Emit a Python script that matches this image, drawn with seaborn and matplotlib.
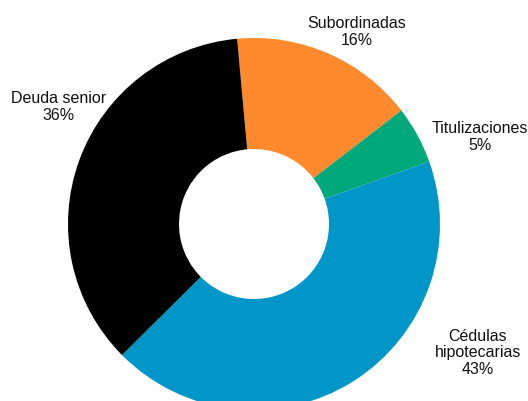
import matplotlib
matplotlib.use("Agg")
import matplotlib.pyplot as plt
import seaborn as sns

sns.set_theme(style="white")
plt.rcParams['font.family'] = ['Liberation Sans', 'DejaVu Sans']

categorias = ['Subordinadas', 'Titulizaciones', 'Cédulas\nhipotecarias', 'Deuda senior']
valores = [16, 5, 43, 36]
colores = ['#FF8A2D', '#00A87A', '#0096C8', '#000000']

# label positions in pixel coords (x, y from top)
pos_etiquetas = [(357, 32), (480, 137), (478, 353), (59, 107)]

fig = plt.figure(figsize=(5.28, 4.01), dpi=100)
ax = fig.add_axes([0, 0, 1, 1])

ax.pie(valores, colors=colores, startangle=95.2, counterclock=False,
       center=(254, 401 - 224), radius=186,
       wedgeprops=dict(width=111, linewidth=0), frame=True)
ax.set_xlim(0, 528)
ax.set_ylim(0, 401)
ax.set_aspect('equal')
ax.axis('off')

for cat, v, (x, y) in zip(categorias, valores, pos_etiquetas):
    ax.text(x, 401 - y, f'{cat}\n{v}%', ha='center', va='center',
            fontsize=11.5, color='#111111', linespacing=1.1)

fig.savefig('out.png', dpi=100)
